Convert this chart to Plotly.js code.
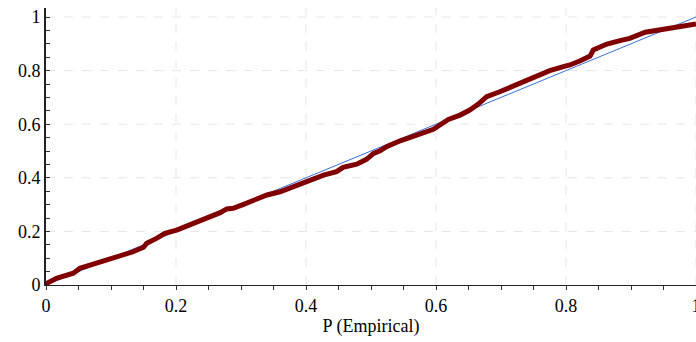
<!DOCTYPE html>
<html>
<head>
<meta charset="utf-8">
<script src="https://cdn.plot.ly/plotly-3.0.1.min.js"></script>
<style>
html,body{margin:0;padding:0;background:#fff;}
#chart{width:696px;height:342px;}
#chart .main-svg text{font-family:'Liberation Serif' !important; fill:#000 !important;}
#chart .xtick text, #chart .ytick text, #chart .xtitle{font-size:18px !important;}
</style>
</head>
<body>
<div id="chart"></div>
<script>
var pEmp = [0, 0.001, 0.016, 0.042, 0.052, 0.073, 0.093, 0.114, 0.134, 0.150, 0.155, 0.170, 0.183, 0.201, 0.222, 0.247, 0.257, 0.268, 0.278, 0.288, 0.304, 0.319, 0.340, 0.360, 0.380, 0.401, 0.427, 0.447, 0.457, 0.478, 0.493, 0.504, 0.514, 0.524, 0.545, 0.570, 0.596, 0.606, 0.619, 0.637, 0.652, 0.665, 0.678, 0.698, 0.719, 0.740, 0.760, 0.775, 0.796, 0.806, 0.822, 0.837, 0.842, 0.863, 0.883, 0.898, 0.922, 0.945, 0.970, 1.0];
var pTheo = [0, 0.006, 0.025, 0.044, 0.062, 0.078, 0.093, 0.108, 0.124, 0.141, 0.156, 0.174, 0.193, 0.205, 0.224, 0.249, 0.257, 0.270, 0.284, 0.286, 0.301, 0.317, 0.336, 0.348, 0.365, 0.386, 0.410, 0.423, 0.439, 0.451, 0.469, 0.491, 0.501, 0.516, 0.538, 0.560, 0.581, 0.597, 0.618, 0.634, 0.653, 0.675, 0.703, 0.721, 0.743, 0.762, 0.784, 0.800, 0.815, 0.821, 0.837, 0.854, 0.877, 0.899, 0.912, 0.920, 0.943, 0.951, 0.962, 0.974];
var refX = [0, 1];
var refY = [0, 1];
var tickVals = [0, 0.05, 0.1, 0.15, 0.2, 0.25, 0.3, 0.35, 0.4, 0.45, 0.5, 0.55, 0.6, 0.65, 0.7, 0.75, 0.8, 0.85, 0.9, 0.95, 1];
var tickText = ['0', '', '', '', '0.2', '', '', '', '0.4', '', '', '', '0.6', '', '', '', '0.8', '', '', '', '1'];
var gridVals = [0.2, 0.4, 0.6, 0.8, 1];

var serif = 'Liberation Serif';
var data = [
  {x: refX, y: refY, type: 'scatter', mode: 'lines', line: {color: '#3a6fd8', width: 1}, hoverinfo: 'skip'},
  {x: pEmp, y: pTheo, type: 'scatter', mode: 'lines', line: {color: '#800000', width: 5}}
];
var shapes = [];
gridVals.forEach(function(g){
  shapes.push({type: 'line', layer: 'below', xref: 'x', yref: 'paper', x0: g, x1: g, y0: 0, y1: 1, line: {color: '#e6e6e6', width: 1, dash: 'dash'}});
  shapes.push({type: 'line', layer: 'below', xref: 'paper', yref: 'y', x0: 0, x1: 1, y0: g, y1: g, line: {color: '#e6e6e6', width: 1, dash: 'dash'}});
});
var layout = {
  width: 696, height: 342,
  margin: {l: 46, r: 0, t: 8, b: 57},
  showlegend: false,
  font: {family: serif, size: 18, color: '#000'},
  shapes: shapes,
  xaxis: {
    range: [0, 1], tickmode: 'array', tickvals: tickVals, ticktext: tickText,
    showline: true, linecolor: '#222', linewidth: 1,
    ticks: 'outside', ticklen: 4, tickcolor: '#333',
    showgrid: false, zeroline: false,
    ticklabeloverflow: 'allow',
    tickfont: {family: serif, size: 18, color: '#000'},
    title: {text: 'P (Empirical)', font: {family: serif, size: 18, color: '#000'}, standoff: 4}
  },
  yaxis: {
    range: [0, 1.0336], tickmode: 'array', tickvals: tickVals, ticktext: tickText,
    showline: true, linecolor: '#222', linewidth: 2,
    ticks: 'inside', ticklen: 4, tickcolor: '#333',
    showgrid: false, zeroline: false,
    tickfont: {family: serif, size: 18, color: '#000'}
  }
};
Plotly.newPlot('chart', data, layout, {displayModeBar: false});
</script>
</body>
</html>
